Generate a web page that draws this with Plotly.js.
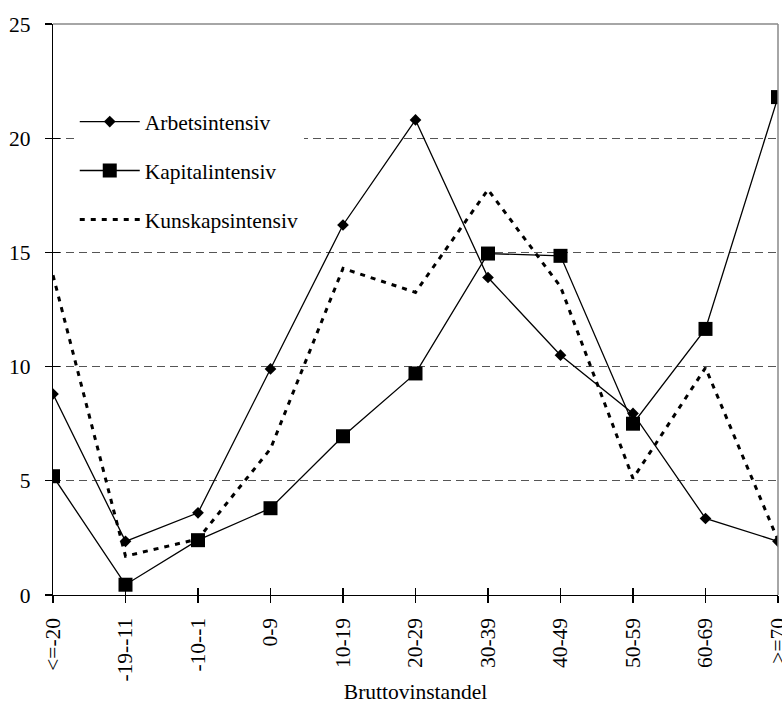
<!DOCTYPE html>
<html>
<head>
<meta charset="utf-8">
<script src="https://cdn.plot.ly/plotly-3.0.1.min.js"></script>
<style>html,body{margin:0;padding:0;background:#fff;}#chart{width:782px;height:704px;}</style>
</head>
<body>
<div id="chart"></div>
<script>
const categories = ["<=-20","-19--11","-10--1","0-9","10-19","20-29","30-39","40-49","50-59","60-69",">=70"];
const arbetsintensiv = [8.8, 2.35, 3.6, 9.9, 16.2, 20.8, 13.9, 10.5, 7.95, 3.35, 2.35];
const kapitalintensiv = [5.2, 0.45, 2.4, 3.8, 6.95, 9.7, 14.95, 14.85, 7.5, 11.65, 21.8];
const kunskapsintensiv = [14.0, 1.7, 2.45, 6.4, 14.3, 13.25, 17.75, 13.5, 5.1, 9.95, 2.4];
const yTicks = [0, 5, 10, 15, 20, 25];
const seriesNames = ["Arbetsintensiv", "Kapitalintensiv", "Kunskapsintensiv"];

const font = "Liberation Serif, Times New Roman, serif";
const fs = 21.5;

const traces = [
  {x: categories, y: arbetsintensiv, name: seriesNames[0], legendgroup: "a", type: "scatter", mode: "lines+markers",
   line: {color: "#000", width: 1.3}, marker: {symbol: "diamond", size: 9, color: "#000"}},
  {x: categories, y: kapitalintensiv, name: seriesNames[1], legendgroup: "b", type: "scatter", mode: "lines+markers",
   line: {color: "#000", width: 1.3}, marker: {symbol: "square", size: 14, color: "#000"}},
  {x: categories, y: kunskapsintensiv, name: seriesNames[2], legendgroup: "c", type: "scatter", mode: "lines",
   line: {color: "#000", width: 3, dash: "5px,6px"}}
];

const layout = {
  width: 782, height: 704,
  margin: {l: 53, r: 4, t: 24, b: 109},
  paper_bgcolor: "#fff", plot_bgcolor: "#fff",
  font: {family: font, size: fs, color: "#000"},
  showlegend: true,
  legend: {x: 0.03, y: 0.865, xanchor: "left", yanchor: "top", bgcolor: "#fff",
           traceorder: "grouped", tracegroupgap: 18, itemwidth: 60,
           font: {family: font, size: fs, color: "#000"}},
  xaxis: {type: "category", range: [0, 10], showgrid: false, zeroline: false,
          showline: true, linecolor: "#000", linewidth: 1.3,
          ticks: "outside", ticklen: 7, tickwidth: 1.3, tickcolor: "#000",
          tickangle: -90, ticklabelstandoff: 6,
          tickfont: {family: font, size: fs},
          title: {text: "Bruttovinstandel", font: {family: font, size: fs}, standoff: 4}},
  xaxis2: {overlaying: "x", type: "linear", range: [0, 10], tickvals: [0,1,2,3,4,5,6,7,8,9,10],
           showticklabels: false, ticks: "inside", ticklen: 7, tickwidth: 1.3, tickcolor: "#000",
           showgrid: false, zeroline: false, showline: false, side: "bottom"},
  yaxis: {range: [0, 25], tickvals: yTicks, showgrid: true, gridcolor: "#555", griddash: "8px,5px", gridwidth: 1,
          zeroline: false, showline: true, linecolor: "#000", linewidth: 1.3,
          ticks: "outside", ticklen: 7, tickwidth: 1.3, tickcolor: "#000", ticklabelstandoff: 10,
          tickfont: {family: font, size: fs}},
  yaxis2: {overlaying: "y", range: [0, 25], tickvals: yTicks, showticklabels: false,
           ticks: "inside", ticklen: 7, tickwidth: 1.3, tickcolor: "#000",
           showgrid: false, zeroline: false, showline: false, side: "left"},
  shapes: [
    {type: "line", xref: "paper", yref: "paper", x0: 0, x1: 1, y0: 1, y1: 1, line: {color: "#888", width: 1.5}},
    {type: "line", xref: "paper", yref: "paper", x0: 1, x1: 1, y0: 0, y1: 1, line: {color: "#888", width: 1.5}}
  ]
};

// helper invisible trace to anchor the secondary axes
traces.push({x: [0], y: [0], xaxis: "x2", yaxis: "y2", type: "scatter", mode: "markers",
             marker: {opacity: 0}, showlegend: false, hoverinfo: "skip"});

Plotly.newPlot("chart", traces, layout, {displayModeBar: false, staticPlot: true});
</script>
</body>
</html>
